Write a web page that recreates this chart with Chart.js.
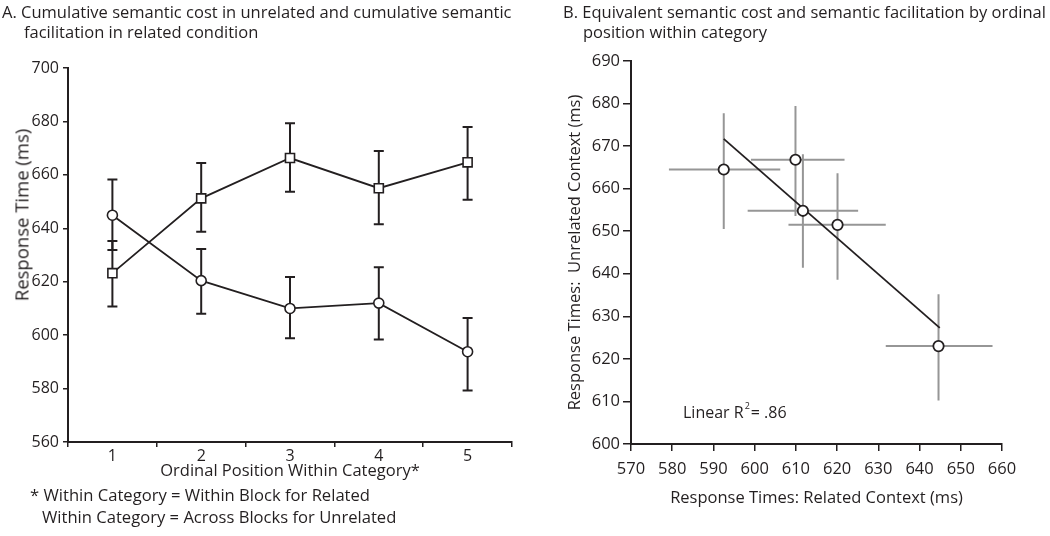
<!DOCTYPE html>
<html>
<head>
<meta charset="utf-8">
<script src="https://cdn.jsdelivr.net/npm/chart.js@4.4.1/dist/chart.umd.min.js"></script>
<style>
  html, body { margin: 0; padding: 0; background: #fff; }
  #wrap { position: relative; width: 1050px; height: 536px; overflow: hidden; font-family: "Open Sans", sans-serif; color: #231f20; }
  canvas { position: absolute; top: 0; }
  .txt { position: absolute; white-space: nowrap; }
  .ttl { font-size: 16.5px; line-height: 20px; }
</style>
</head>
<body>
<div id="wrap">
  <canvas id="chartA" width="525" height="536" style="left:0"></canvas>
  <canvas id="chartB" width="525" height="536" style="left:525px"></canvas>

  <div class="txt ttl" style="left:2px; top:2px;">A. Cumulative semantic cost in unrelated and cumulative semantic<br><span style="padding-left:22px">facilitation in related condition</span></div>
  <div class="txt ttl" style="left:563px; top:2px;">B. Equivalent semantic cost and semantic facilitation by ordinal<br><span style="padding-left:20px">position within category</span></div>

  <div class="txt" id="yTitleA" style="font-size:18.5px; left:21px; top:215px; transform: translate(-50%,-50%) rotate(-90deg);">Response Time (ms)</div>

  <div class="txt" style="font-size:16.6px; line-height:22px; left:30px; top:484px;">* Within Category = Within Block for Related<br><span style="padding-left:12px">Within Category = Across Blocks for Unrelated</span></div>

  <div class="txt" style="font-size:16px; left:683px; top:399px;">Linear R<sup style="font-size:9px; vertical-align:9px; margin-left:1px; margin-right:1px;">2</sup>= .86</div>
</div>

<script>
// ---------- Panel A data ----------
const positions = ['1', '2', '3', '4', '5'];
const unrelatedRT   = [623.2, 651.2, 666.3, 655.0, 664.7];
const unrelatedLow  = [610.7, 638.7, 653.7, 641.5, 650.7];
const unrelatedHigh = [635.2, 664.4, 679.3, 668.9, 677.9];
const relatedRT     = [644.9, 620.4, 610.0, 612.0, 593.8];
const relatedLow    = [631.9, 608.0, 598.8, 598.4, 579.3];
const relatedHigh   = [658.3, 632.2, 621.8, 625.4, 606.4];
const yTicksA = [560, 580, 600, 620, 640, 660, 680, 700];

// ---------- Panel B data ----------
const relatedCtx    = [592.5, 609.9, 611.7, 620.1, 644.6];
const unrelatedCtx  = [664.5, 666.8, 654.8, 651.5, 623.0];
const relatedErrLow   = [579.2, 599.1, 598.3, 608.2, 631.8];
const relatedErrHigh  = [606.2, 621.8, 625.1, 631.8, 657.7];
const unrelatedErrLow  = [650.5, 653.6, 641.4, 638.6, 610.2];
const unrelatedErrHigh = [677.7, 679.4, 668.1, 663.6, 635.2];
const fitX = [592.5, 644.9];
const fitY = [671.7, 627.3];
const xTicksB = [570, 580, 590, 600, 610, 620, 630, 640, 650, 660];
const yTicksB = [600, 610, 620, 630, 640, 650, 660, 670, 680, 690];

const INK = '#231f20';
const GREY = '#969696';
const FONT = "'Open Sans', sans-serif";

// ---------- Panel A ----------
const errorBarsA = {
  id: 'errorBarsA',
  beforeDatasetsDraw(chart) {
    const ctx = chart.ctx;
    const xs = chart.scales.x, ys = chart.scales.y;
    const sets = [[unrelatedLow, unrelatedHigh], [relatedLow, relatedHigh]];
    ctx.save();
    ctx.strokeStyle = INK;
    ctx.lineWidth = 2;
    sets.forEach(([lo, hi]) => {
      lo.forEach((l, i) => {
        const x = xs.getPixelForValue(i);
        const y1 = ys.getPixelForValue(l), y2 = ys.getPixelForValue(hi[i]);
        ctx.beginPath();
        ctx.moveTo(x, y1); ctx.lineTo(x, y2);
        ctx.moveTo(x - 5, y1); ctx.lineTo(x + 5, y1);
        ctx.moveTo(x - 5, y2); ctx.lineTo(x + 5, y2);
        ctx.stroke();
      });
    });
    ctx.restore();
  }
};

new Chart(document.getElementById('chartA'), {
  type: 'line',
  data: {
    labels: positions,
    datasets: [
      {
        label: 'Unrelated',
        data: unrelatedRT,
        borderColor: INK, borderWidth: 1.8,
        pointStyle: 'rect', pointRadius: 6.4, pointBorderWidth: 1.6,
        pointBackgroundColor: '#fff', pointBorderColor: INK,
        tension: 0, fill: false
      },
      {
        label: 'Related',
        data: relatedRT,
        borderColor: INK, borderWidth: 1.8,
        pointStyle: 'circle', pointRadius: 5, pointBorderWidth: 1.6,
        pointBackgroundColor: '#fff', pointBorderColor: INK,
        tension: 0, fill: false
      }
    ]
  },
  options: {
    responsive: false,
    animation: false,
    events: [],
    layout: { padding: { left: 0, top: 68, right: 13, bottom: 0 } },
    plugins: { legend: { display: false }, tooltip: { enabled: false } },
    scales: {
      x: {
        type: 'category',
        offset: true,
        grid: { offset: true, drawOnChartArea: false, drawTicks: true, tickLength: 5, color: INK, lineWidth: 1.5 },
        border: { display: true, color: INK, width: 2 },
        ticks: { color: INK, font: { family: FONT, size: 16 }, padding: 0, maxRotation: 0 },
        title: { display: true, text: 'Ordinal Position Within Category*', color: INK,
                 font: { family: FONT, size: 16.5 }, padding: { top: 0, bottom: 55 } },
        afterFit(s) { s.height = 94; }
      },
      y: {
        min: 560, max: 700,
        afterBuildTicks(s) { s.ticks = yTicksA.map(v => ({ value: v })); },
        grid: { drawOnChartArea: false, drawTicks: true, tickLength: 5, color: INK, lineWidth: 1.5 },
        border: { display: true, color: INK, width: 2 },
        ticks: { color: INK, font: { family: FONT, size: 16 }, padding: 4 },
        afterFit(s) { s.width = 68; }
      }
    }
  },
  plugins: [errorBarsA]
});

// ---------- Panel B ----------
const errorBarsB = {
  id: 'errorBarsB',
  beforeDatasetsDraw(chart) {
    const ctx = chart.ctx;
    const xs = chart.scales.x, ys = chart.scales.y;
    ctx.save();
    ctx.strokeStyle = GREY;
    ctx.lineWidth = 2;
    relatedCtx.forEach((xv, i) => {
      const x = xs.getPixelForValue(xv), y = ys.getPixelForValue(unrelatedCtx[i]);
      ctx.beginPath();
      ctx.moveTo(xs.getPixelForValue(relatedErrLow[i]), y);
      ctx.lineTo(xs.getPixelForValue(relatedErrHigh[i]), y);
      ctx.moveTo(x, ys.getPixelForValue(unrelatedErrLow[i]));
      ctx.lineTo(x, ys.getPixelForValue(unrelatedErrHigh[i]));
      ctx.stroke();
    });
    ctx.restore();
  }
};

new Chart(document.getElementById('chartB'), {
  type: 'scatter',
  data: {
    datasets: [
      {
        label: 'Positions',
        data: relatedCtx.map((x, i) => ({ x, y: unrelatedCtx[i] })),
        pointStyle: 'circle', pointRadius: 5.2, pointBorderWidth: 1.8,
        pointBackgroundColor: '#fff', pointBorderColor: INK,
        showLine: false
      },
      {
        label: 'Linear fit',
        data: fitX.map((x, i) => ({ x, y: fitY[i] })),
        showLine: true, borderColor: INK, borderWidth: 1.8,
        pointRadius: 0, fill: false
      }
    ]
  },
  options: {
    responsive: false,
    animation: false,
    events: [],
    layout: { padding: { left: 0, top: 61, right: 48, bottom: 0 } },
    plugins: { legend: { display: false }, tooltip: { enabled: false } },
    scales: {
      x: {
        type: 'linear', min: 570, max: 660,
        afterBuildTicks(s) { s.ticks = xTicksB.map(v => ({ value: v })); },
        grid: { drawOnChartArea: false, drawTicks: true, tickLength: 7, color: INK, lineWidth: 1.5 },
        border: { display: true, color: INK, width: 2 },
        ticks: { color: INK, font: { family: FONT, size: 16.5 }, padding: 8 },
        title: { display: true, text: 'Response Times: Related Context (ms)', color: INK,
                 font: { family: FONT, size: 16.5 }, padding: { top: 0, bottom: 28 } },
        afterFit(s) { s.height = 92; }
      },
      y: {
        type: 'linear', min: 600, max: 690,
        afterBuildTicks(s) { s.ticks = yTicksB.map(v => ({ value: v })); },
        grid: { drawOnChartArea: false, drawTicks: true, tickLength: 8, color: INK, lineWidth: 1.5 },
        border: { display: true, color: INK, width: 2 },
        ticks: { color: INK, font: { family: FONT, size: 16.5 }, padding: 3 },
        title: { display: true, text: 'Response Times:  Unrelated Context (ms)', color: INK,
                 font: { family: FONT, size: 16.5 }, padding: { top: 40, bottom: 0 } },
        afterFit(s) { s.width = 106; }
      }
    }
  },
  plugins: [errorBarsB]
});
</script>
</body>
</html>
